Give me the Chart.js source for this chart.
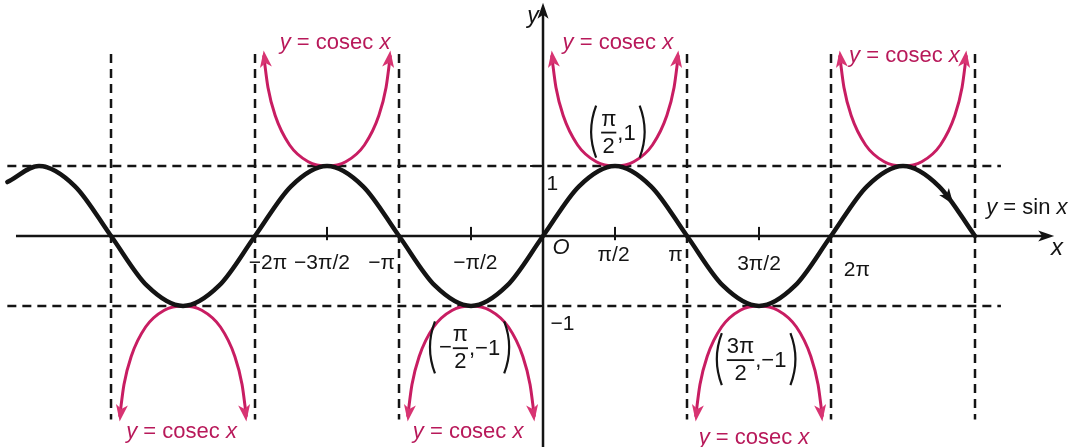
<!DOCTYPE html>
<html>
<head>
<meta charset="utf-8">
<script src="https://cdn.jsdelivr.net/npm/chart.js@4.4.1/dist/chart.umd.min.js"></script>
<style>
  html, body { margin: 0; padding: 0; background: #fff; }
  #wrap { width: 1074px; height: 447px; }
</style>
</head>
<body>
<div id="wrap"><canvas id="graph" width="1074" height="447"></canvas></div>
<script>
// x values are in units of pi
const sineX = [-3.72, -3.5, -3.25, -3, -2.75, -2.5, -2.25, -2, -1.75, -1.5, -1.25, -1, -0.75, -0.5, -0.25,
  0, 0.25, 0.5, 0.75, 1, 1.25, 1.5, 1.75, 2, 2.25, 2.5, 2.75, 3];
const sineY = [0.77, 1, 0.71, 0, -0.71, -1, -0.71, 0, 0.71, 1, 0.71, 0, -0.71, -1, -0.71,
  0, 0.71, 1, 0.71, 0, -0.71, -1, -0.71, 0, 0.71, 1, 0.71, 0];

// one cosec branch: offset from its centre (pi units) and |y|
const branchOffset = [-0.44, -0.41, -0.36, -0.26, -0.13, 0, 0.13, 0.26, 0.36, 0.41, 0.44];
const branchValue = [2.58, 2.12, 1.72, 1.3, 1.06, 1, 1.06, 1.3, 1.72, 2.12, 2.58];
const branchCentre = [-2.5, -1.5, -0.5, 0.5, 1.5, 2.5];
const branchSign = [-1, 1, -1, 1, -1, 1];

const asymptotes = [-3, -2, -1, 1, 2, 3];
const levels = [1, -1];
const tickX = [-1.5, -0.5, 0.5, 1.5];

const tickLabels = ['−2π', '−3π/2', '−π', '−π/2', 'π/2', 'π', '3π/2', '2π'];
const tickLabelX = [-1.91, -1.535, -1.12, -0.47, 0.49, 0.92, 1.5, 2.18];
const tickLabelY = [-0.39, -0.39, -0.39, -0.39, -0.27, -0.27, -0.41, -0.49];

const cosecLabelX = [-1.444, 0.52, 2.51, -2.51, -0.52, 1.465];
const cosecLabelY = [2.76, 2.76, 2.57, -2.8, -2.8, -2.89];

const BLACK = '#141414';
const PINK = '#c81d62';
const PINK_TXT = '#b8195a';
const FONT = '"Liberation Sans", Arial, sans-serif';

const pts = (xs, ys) => xs.map((v, i) => ({ x: v, y: ys[i] }));

const datasets = [];
datasets.push({
  data: pts(sineX, sineY), borderColor: BLACK, borderWidth: 4.5,
  cubicInterpolationMode: 'monotone', borderCapStyle: 'round'
});
branchCentre.forEach((c, k) => {
  datasets.push({
    data: branchOffset.map((o, i) => ({ x: c + o, y: branchSign[k] * branchValue[i] })),
    borderColor: PINK, borderWidth: 3, cubicInterpolationMode: 'monotone'
  });
});
asymptotes.forEach(a => {
  datasets.push({
    data: [{ x: a, y: 2.6 }, { x: a, y: -2.62 }],
    borderColor: BLACK, borderWidth: 2.5, borderDash: [9, 6]
  });
});
levels.forEach(l => {
  datasets.push({
    data: [{ x: -3.72, y: l }, { x: 3.18, y: l }],
    borderColor: BLACK, borderWidth: 2.5, borderDash: [9, 6]
  });
});
// axes
datasets.push({ data: [{ x: -3.66, y: 0 }, { x: 3.5, y: 0 }], borderColor: BLACK, borderWidth: 2.5 });
datasets.push({ data: [{ x: 0, y: -3.1 }, { x: 0, y: 3.25 }], borderColor: BLACK, borderWidth: 2.5 });
tickX.forEach(t => {
  datasets.push({ data: [{ x: t, y: -0.06 }, { x: t, y: 0.13 }], borderColor: BLACK, borderWidth: 2 });
});
levels.forEach(l => {
  datasets.push({ data: [{ x: -0.09, y: l }, { x: 0, y: l }], borderColor: BLACK, borderWidth: 2 });
});

function arrowHead(ctx, tx, ty, ang, len, wid, color) {
  ctx.save();
  ctx.translate(tx, ty);
  ctx.rotate(ang);
  ctx.fillStyle = color;
  ctx.beginPath();
  ctx.moveTo(0, 0);
  ctx.lineTo(-len, -wid / 2);
  ctx.lineTo(-len * 0.75, 0);
  ctx.lineTo(-len, wid / 2);
  ctx.closePath();
  ctx.fill();
  ctx.restore();
}

// parts: [text, italic]
function richText(ctx, parts, cx, cy, size, color) {
  ctx.fillStyle = color;
  ctx.textBaseline = 'middle';
  ctx.textAlign = 'left';
  let w = 0;
  parts.forEach(p => { ctx.font = (p[1] ? 'italic ' : '') + size + 'px ' + FONT; w += ctx.measureText(p[0]).width; });
  let x0 = cx - w / 2;
  parts.forEach(p => {
    ctx.font = (p[1] ? 'italic ' : '') + size + 'px ' + FONT;
    ctx.fillText(p[0], x0, cy);
    x0 += ctx.measureText(p[0]).width;
  });
}

function paren(ctx, x, top, bot, dir) {
  const mid = (top + bot) / 2;
  ctx.beginPath();
  ctx.moveTo(x, top);
  ctx.quadraticCurveTo(x - dir * 10, mid, x, bot);
  ctx.lineWidth = 2.2;
  ctx.strokeStyle = BLACK;
  ctx.stroke();
}

// point label like ( pi/2 , 1 )
function pointLabel(ctx, cx, cy, pre, num, val) {
  ctx.font = '22px ' + FONT;
  ctx.textBaseline = 'middle';
  ctx.fillStyle = BLACK;
  const preW = pre ? ctx.measureText(pre).width : 0;
  const fracW = Math.max(ctx.measureText(num).width, ctx.measureText('2').width) + 2;
  const valW = ctx.measureText(val).width;
  const total = 9 + preW + fracW + valW + 9;
  let x = cx - total / 2;
  paren(ctx, x + 5, cy - 26, cy + 26, 1);
  x += 9;
  ctx.textAlign = 'left';
  if (pre) { ctx.fillText(pre, x, cy + 1); x += preW; }
  ctx.textAlign = 'center';
  ctx.fillText(num, x + fracW / 2, cy - 12);
  ctx.fillText('2', x + fracW / 2, cy + 15);
  ctx.fillRect(x + 1, cy, fracW - 2, 1.8);
  x += fracW;
  ctx.textAlign = 'left';
  ctx.fillText(val, x, cy + 2);
  x += valW;
  paren(ctx, x + 4, cy - 26, cy + 26, -1);
}

const annotations = {
  id: 'annotations',
  afterDatasetsDraw(chart) {
    const { ctx } = chart;
    const sx = chart.scales.x, sy = chart.scales.y;
    const px = v => sx.getPixelForValue(v);
    const py = v => sy.getPixelForValue(v);
    ctx.save();

    // axis arrows
    arrowHead(ctx, px(3.55), py(0), 0, 16, 11, BLACK);
    arrowHead(ctx, px(0), py(3.33), -Math.PI / 2, 16, 11, BLACK);

    // arrow on the sine curve
    const a = { x: px(2.75), y: py(0.71) }, b = { x: px(3), y: py(0) };
    const ang = Math.atan2(b.y - a.y, b.x - a.x);
    arrowHead(ctx, px(2.85), py(0.45), ang, 16, 12, BLACK);

    // pink arrow tips on the cosec branches
    const n = branchOffset.length;
    branchCentre.forEach((c, k) => {
      const s = branchSign[k];
      [[n - 2, n - 1], [1, 0]].forEach(([i0, i1]) => {
        const x0 = px(c + branchOffset[i0]), y0 = py(s * branchValue[i0]);
        const x1 = px(c + branchOffset[i1]), y1 = py(s * branchValue[i1]);
        arrowHead(ctx, x1, y1 + (s > 0 ? -5 : 5), Math.atan2(y1 - y0, x1 - x0), 17, 12, '#d83472');
      });
    });

    // tick labels
    tickLabels.forEach((t, i) => richText(ctx, [[t, false]], px(tickLabelX[i]), py(tickLabelY[i]), 21, BLACK));
    richText(ctx, [['O', true]], px(0.125), py(-0.17), 22, BLACK);
    richText(ctx, [['1', false]], px(0.065), py(0.74), 21, BLACK);
    richText(ctx, [['−1', false]], px(0.135), py(-1.26), 21, BLACK);
    richText(ctx, [['y', true]], px(-0.07), py(3.13), 23, BLACK);
    richText(ctx, [['x', true]], px(3.57), py(-0.17), 24, BLACK);
    richText(ctx, [['y', true], [' = sin ', false], ['x', true]], px(3.36), py(0.4), 22, BLACK);

    // cosec labels
    cosecLabelX.forEach((lx, i) => {
      richText(ctx, [['y', true], [' = cosec ', false], ['x', true]], px(lx), py(cosecLabelY[i]), 22, PINK_TXT);
    });

    // point labels
    pointLabel(ctx, px(0.52), py(1.49), '', 'π', ',1');
    pointLabel(ctx, px(-0.51), py(-1.59), '−', 'π', ',−1');
    pointLabel(ctx, px(1.48), py(-1.76), '', '3π', ',−1');

    ctx.restore();
  }
};

new Chart(document.getElementById('graph'), {
  type: 'scatter',
  data: { datasets: datasets.map(d => Object.assign({ showLine: true, pointRadius: 0, fill: false }, d)) },
  options: {
    responsive: false,
    animation: false,
    devicePixelRatio: 1,
    layout: { padding: 0 },
    scales: {
      x: { type: 'linear', min: -3.771, max: 3.6875, display: false },
      y: { type: 'linear', min: -3.014, max: 3.371, display: false }
    },
    plugins: { legend: { display: false }, tooltip: { enabled: false } }
  },
  plugins: [annotations]
});
</script>
</body>
</html>
